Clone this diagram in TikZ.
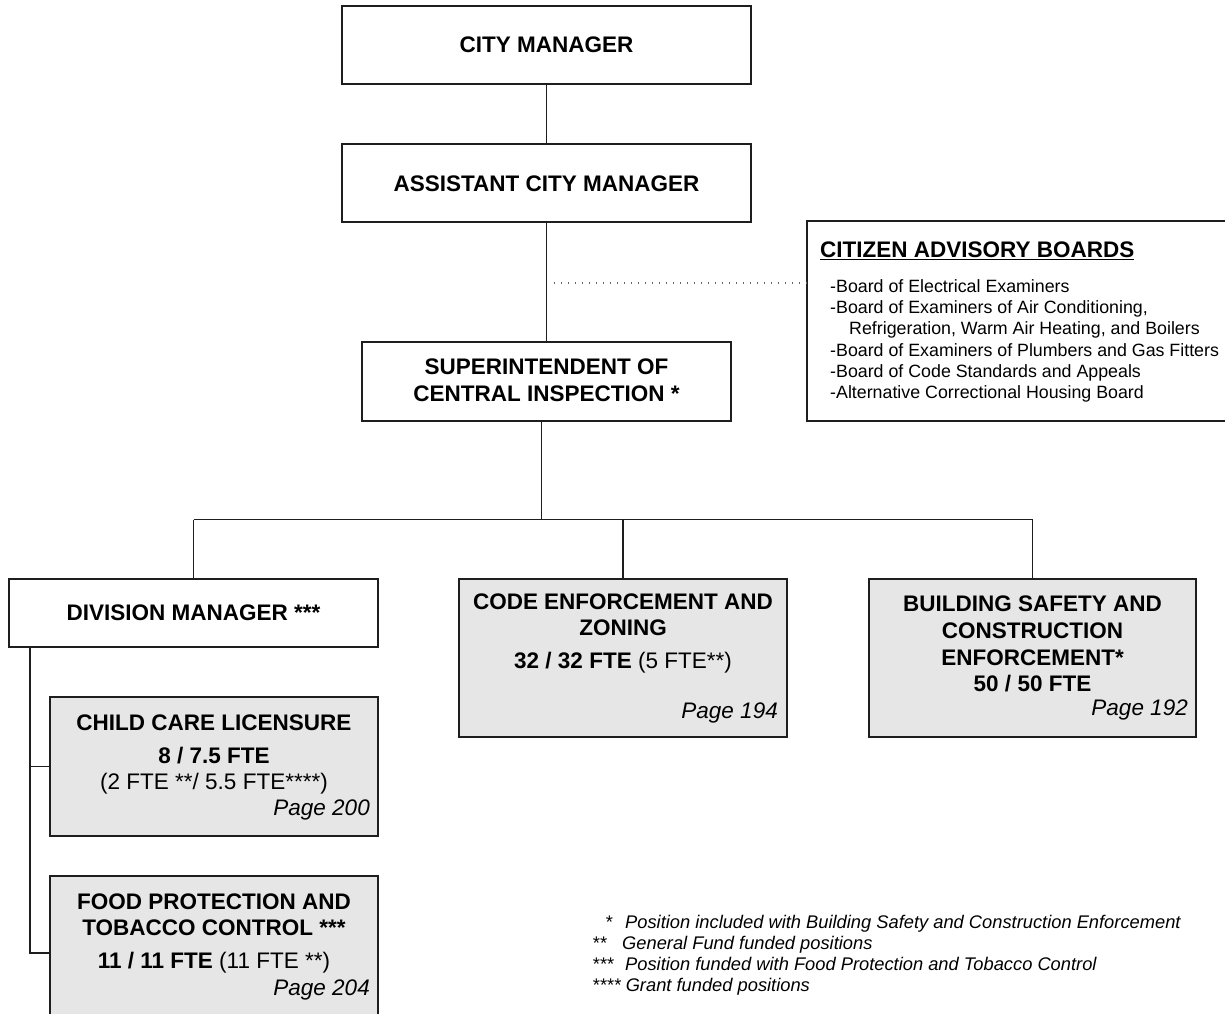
\documentclass[tikz,border=0pt]{standalone}
\usepackage{fontspec}
\setmainfont{Liberation Sans}
\definecolor{linec}{RGB}{30,30,30}
\definecolor{boxfill}{RGB}{230,230,230}
\begin{document}
\begin{tikzpicture}[x=1pt,y=-1pt,
  box/.style={draw=linec, line width=1.8pt, fill=white, inner sep=0pt},
  graybox/.style={box, fill=boxfill},
  conn/.style={draw=linec, line width=1.9pt},
  dots/.style={draw=black!60, line width=1.1pt, dash pattern=on 1.1pt off 5.9pt},
  tb/.style={font=\fontsize{22.5}{27}\selectfont\bfseries, inner sep=0pt, anchor=base, text=black},
  tr/.style={font=\fontsize{22.5}{27}\selectfont, inner sep=0pt, anchor=base, text=black},
  pg/.style={font=\fontsize{22.5}{27}\selectfont\itshape, inner sep=0pt, anchor=base east, text=black},
  lst/.style={font=\fontsize{17.8}{21.3}\selectfont, inner sep=0pt, anchor=base west, text=black},
  fn/.style={font=\fontsize{18.3}{21}\selectfont\itshape, inner sep=0pt, anchor=base west, text=black}
]
\useasboundingbox (0,0) rectangle (1225,1013);
\clip (0,0) rectangle (1225,1013);
\fill[white] (0,0) rectangle (1225,1013);

% top chain
\node[box, minimum width=409, minimum height=78] (cm) at (546.5,45) {};
\node[tb] (cmT) at (546.5,52) {CITY MANAGER};
\node[box, minimum width=409, minimum height=78] (acm) at (546.5,183) {};
\node[tb] (acmT) at (546.5,191) {ASSISTANT CITY MANAGER};
\node[box, minimum width=369, minimum height=79] (sup) at (546.5,381.5) {};
\node[tb] (supT1) at (546.5,374.5) {SUPERINTENDENT OF};
\node[tb] (supT2) at (546.5,401.5) {CENTRAL INSPECTION *};

% citizen advisory boards
\node[box, minimum width=440, minimum height=200] (cab) at (1027,321) {};
\node[tb, anchor=base west] (cabT) at (820,257.5) {\underline{CITIZEN ADVISORY BOARDS}};
\node[lst] (l1) at (830,292.3) {-Board of Electrical Examiners};
\node[lst] (l2) at (830,313.6) {-Board of Examiners of Air Conditioning,};
\node[lst] (l3) at (849,334.9) {Refrigeration, Warm Air Heating, and Boilers};
\node[lst] (l4) at (830,356.2) {-Board of Examiners of Plumbers and Gas Fitters};
\node[lst] (l5) at (830,377.5) {-Board of Code Standards and Appeals};
\node[lst] (l6) at (830,398.8) {-Alternative Correctional Housing Board};

% second level
\node[box, minimum width=369, minimum height=68] (dm) at (193.5,613) {};
\node[tb] (dmT) at (193.5,620) {DIVISION MANAGER ***};

\node[graybox, minimum width=328, minimum height=158] (ce) at (623,658) {};
\node[tb] (ceT1) at (623,609) {CODE ENFORCEMENT AND};
\node[tb] (ceT2) at (623,635) {ZONING};
\node[tb] (ceT3) at (623,668) {32 / 32 FTE \mdseries(5 FTE**)};
\node[pg] (ceP) at (778,718) {Page 194};

\node[graybox, minimum width=327, minimum height=158] (bs) at (1032.5,658) {};
\node[tb] (bsT1) at (1032.5,611.5) {BUILDING SAFETY AND};
\node[tb] (bsT2) at (1032.5,638.3) {CONSTRUCTION};
\node[tb] (bsT3) at (1032.5,665.1) {ENFORCEMENT*};
\node[tb] (bsT4) at (1032.5,691.9) {50 / 50 FTE};
\node[pg] (bsP) at (1188,715.5) {Page 192};

% third level
\node[graybox, minimum width=328, minimum height=139] (cc) at (214,766.5) {};
\node[tb] (ccT1) at (214,730) {CHILD CARE LICENSURE};
\node[tb] (ccT2) at (214,763) {8 / 7.5 FTE};
\node[tr] (ccT3) at (214,789) {(2 FTE **/ 5.5 FTE****)};
\node[pg] (ccP) at (370,815) {Page 200};

\node[graybox, minimum width=328, minimum height=154] (fp) at (214,953) {};
\node[tb] (fpT1) at (214,909) {FOOD PROTECTION AND};
\node[tb] (fpT2) at (214,935) {TOBACCO CONTROL ***};
\node[tb] (fpT3) at (214,968) {11 / 11 FTE \mdseries(11 FTE **)};
\node[pg] (fpP) at (370,995) {Page 204};

% connectors
\draw[conn] (cm) -- (acm);
\draw[conn] (acm) -- (sup);
\coordinate (dotS) at (554,283);
\draw[dots] (dotS) -- (dotS -| cab.west);
\coordinate (bus) at (541.5,519.5);
\draw[conn] (sup.south -| bus) -- (bus);
\draw[conn] (dm.north |- bus) -- (bs.north |- bus);
\draw[conn] (dm.north |- bus) -- (dm.north);
\draw[conn] (ce.north |- bus) -- (ce.north);
\draw[conn] (bs.north |- bus) -- (bs.north);
\coordinate (spine) at (30,647);
\draw[conn] (dm.south -| spine) -- (spine |- fp.west) -- (fp.west);
\draw[conn] (spine |- cc.west) -- (cc.west);

% footnotes
\node[fn] (f1a) at (605,928.5) {*};
\node[fn] (f1b) at (625,928.5) {Position included with Building Safety and Construction Enforcement};
\node[fn] (f2a) at (592,949.5) {**};
\node[fn] (f2b) at (622,949.5) {General Fund funded positions};
\node[fn] (f3a) at (592,970.5) {***};
\node[fn] (f3b) at (625,970.5) {Position funded with Food Protection and Tobacco Control};
\node[fn] (f4) at (592,991.5) {**** Grant funded positions};
\end{tikzpicture}
\end{document}
